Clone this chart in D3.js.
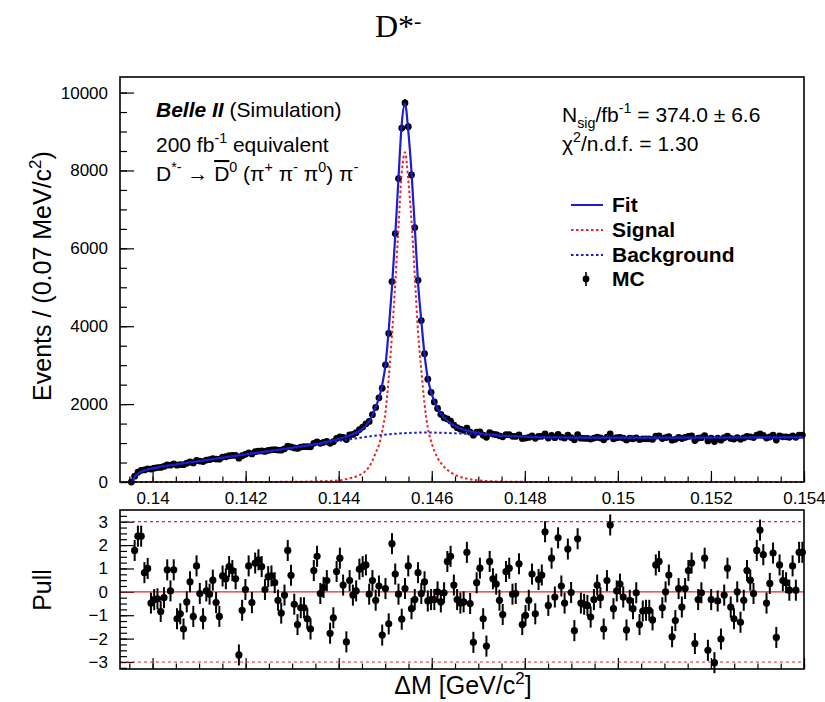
<!DOCTYPE html>
<html lang="en">
<head>
    <meta charset="UTF-8">
    <title>D*- Delta M fit</title>
    <script src="https://d3js.org/d3.v7.min.js"></script>
    <style>
        body { margin: 0; background: #fff; }
        svg { display: block; }
        text { font-family: "Liberation Sans", Arial, Helvetica, sans-serif; fill: #000; white-space: pre; }
        text.serif { font-family: "Liberation Serif", "Times New Roman", serif; }
        .tick line { stroke: #000; stroke-width: 1.2; }
    </style>
</head>
<body>
    <svg id="chart" width="825" height="702"></svg>

    <script>
        // histogram binning (0.07 MeV/c^2 bins)
        const binLow = 0.1393;
        const binWidth = 0.00007;

        // MC counts, first entry is bin 3
        const countsFirstBin = 3;
        const counts = [
            0, 150, 250, 301, 309, 338, 333, 354, 370, 374,
            400, 437, 432, 463, 431, 447, 444, 481, 513, 491,
            553, 537, 524, 564, 573, 599, 588, 585, 640, 649,
            674, 682, 686, 613, 674, 710, 750, 720, 778, 795,
            799, 784, 812, 825, 829, 821, 817, 851, 920, 901,
            876, 863, 896, 908, 907, 905, 994, 1028, 993, 1018,
            1045, 992, 1033, 1119, 1160, 1146, 1089, 1209, 1221, 1266,
            1345, 1410, 1494, 1556, 1730, 1914, 2162, 2408, 3008, 3815,
            5146, 6380, 7791, 9088, 9734, 9125, 7886, 6533, 5179, 4145,
            3295, 2640, 2304, 2055, 1888, 1737, 1650, 1620, 1565, 1463,
            1396, 1356, 1329, 1381, 1280, 1203, 1279, 1288, 1200, 1149,
            1265, 1231, 1215, 1186, 1159, 1216, 1216, 1173, 1170, 1209,
            1116, 1127, 1145, 1181, 1121, 1170, 1174, 1236, 1128, 1196,
            1139, 1223, 1152, 1127, 1204, 1141, 1085, 1218, 1125, 1122,
            1120, 1103, 1128, 1149, 1131, 1085, 1154, 1235, 1111, 1136,
            1146, 1128, 1080, 1123, 1111, 1135, 1089, 1108, 1109, 1109,
            1097, 1176, 1181, 1114, 1137, 1162, 1073, 1096, 1143, 1117,
            1144, 1170, 1181, 1064, 1129, 1139, 1189, 1056, 1129, 1039,
            1128, 1073, 1136, 1175, 1120, 1103, 1142, 1098, 1131, 1174,
            1160, 1141, 1203, 1233, 1198, 1128, 1156, 1201, 1079, 1184,
            1161, 1159, 1148, 1184, 1148, 1204, 1204
        ];

        // pulls, first entry is bin 4
        const pullFirstBin = 4;
        const pulls = [
            1.77, 2.38, 2.38, 0.82, 1.0, -0.48, -0.33, -0.30, -0.84, -0.25,
            0.94, 0.04, 0.94, -1.15, -0.94, -1.59, -0.43, 0.43, -1.05, 1.11,
            -0.07, -1.15, 0.04, -0.10, 0.5, -0.46, -1.05, 0.68, 0.56, 1.08,
            0.91, 0.56, -2.7, -0.79, 0.10, 1.11, -0.46, 1.23, 1.37, 1.08,
            0.10, 0.65, 0.68, 0.39, -0.36, -0.91, -0.14, 1.77, 0.71, -0.53,
            -1.40, -0.68, -0.68, -1.15, -1.59, 0.91, 1.52, -0.07, 0.19, 0.48,
            -1.77, -1.11, 0.87, 1.44, 0.29, -2.14, 0.48, -0.14, 0.04, 0.97,
            1.08, 1.15, -0.10, 0.48, -0.36, 0.25, -1.85, 0.14, -1.37, 2.06,
            0.76, -0.10, -1.17, 0.14, 1.11, -0.72, -0.33, 0.82, -0.07, 0.43,
            -0.39, -0.33, -0.33, 0, -0.43, -0.04, 1.30, 1.52, 0.29, -0.33,
            -0.48, -0.43, 1.69, -0.50, -2.16, 0.39, 1.01, -1.15, -2.32, 1.30,
            0.56, 0.33, -0.36, -0.97, 0.87, 1.01, -0.10, -0.07, 1.20, -1.40,
            -1.01, -0.36, 0.76, -0.94, 0.53, 0.72, 2.57, -0.58, 1.44, -0.22,
            2.31, 0.25, -0.48, 1.83, -0.03, -1.66, 2.27, -0.48, -0.53, -0.58,
            -1.08, -0.33, 0.29, -0.25, -1.59, 0.48, 2.86, -0.72, 0.04, 0.33,
            -0.22, -1.63, -0.36, -0.72, -0.04, -1.40, -0.82, -0.79, -0.79, -1.20,
            1.15, 1.30, -0.68, 0, 0.72, -1.92, -1.23, 0.14, -0.65, 0.14,
            0.91, 1.23, -2.21, -0.33, -0.04, 1.44, -2.50, -0.33, -3.03, -0.39,
            -2.02, -0.14, 1.01, -0.65, -1.15, 0, -1.30, -0.36, 0.91, 0.50,
            -0.07, 1.77, 2.64, 1.59, -0.48, 0.36, 1.66, -1.95, 1.15, 0.48,
            0.39, 0.07, 1.11, 0.07, 1.69, 1.69
        ];
        const pullErr = 0.45;

        // fit components, [deltaM, events]
        const fitCurve = [
            [0.13957, 0], [0.13960, 90], [0.139615, 130], [0.139685, 215], [0.139755, 262],
            [0.139825, 295], [0.139965, 342], [0.140175, 391], [0.140455, 443], [0.141, 537],
            [0.142065, 720], [0.143, 880], [0.143535, 980], [0.143885, 1069], [0.144235, 1192],
            [0.144445, 1310], [0.144585, 1450], [0.144725, 1710], [0.144795, 1930], [0.144865, 2150],
            [0.144935, 2500], [0.145005, 3000], [0.145075, 3900], [0.145145, 5000], [0.145215, 6320],
            [0.145285, 7800], [0.145355, 9200], [0.145425, 9720], [0.145495, 9020], [0.145565, 7950],
            [0.145635, 6560], [0.145705, 5120], [0.145775, 4150], [0.145845, 3270], [0.145915, 2660],
            [0.145985, 2320], [0.146055, 2070], [0.146125, 1888], [0.146265, 1652], [0.146405, 1506],
            [0.146545, 1408], [0.146755, 1320], [0.147035, 1252], [0.147385, 1204], [0.147735, 1176],
            [0.148085, 1157], [0.148785, 1143], [0.149835, 1137], [0.151235, 1138], [0.152635, 1143],
            [0.154, 1147]
        ];
        const signalCurve = [
            [0.1393, 0], [0.1420, 0], [0.1430, 6], [0.1435, 15], [0.1440, 40],
            [0.144235, 96], [0.144445, 175], [0.144585, 290], [0.144725, 540], [0.144795, 750],
            [0.144865, 950], [0.144935, 1300], [0.145005, 1790], [0.145075, 2680], [0.145145, 3770],
            [0.145215, 5080], [0.145285, 6555], [0.145355, 7950], [0.145425, 8465], [0.145495, 7760],
            [0.145565, 6685], [0.145635, 5292], [0.145705, 3852], [0.145775, 2882], [0.145845, 2001],
            [0.145915, 1390], [0.145985, 1050], [0.146055, 800], [0.146125, 620], [0.146265, 390],
            [0.146405, 250], [0.146545, 160], [0.146755, 85], [0.147035, 37], [0.147385, 14],
            [0.148, 3], [0.149, 0], [0.154, 0]
        ];
        const backgroundCurve = [
            [0.13957, 0], [0.13960, 90], [0.139615, 130], [0.139685, 215], [0.139755, 262],
            [0.139825, 295], [0.139965, 342], [0.140175, 391], [0.140455, 443], [0.141, 537],
            [0.142065, 720], [0.143, 874], [0.143535, 960], [0.143885, 1030], [0.144235, 1096],
            [0.144445, 1135], [0.144655, 1170], [0.144865, 1200], [0.145075, 1225], [0.145285, 1245],
            [0.145495, 1260], [0.145705, 1268], [0.145915, 1270], [0.146195, 1265], [0.146475, 1252],
            [0.146755, 1235], [0.147035, 1215], [0.147385, 1190], [0.147735, 1170], [0.148085, 1155],
            [0.148785, 1142], [0.149835, 1136], [0.151235, 1137], [0.152635, 1142], [0.154, 1147]
        ];

        // axis ticks
        const xTicks = [0.14, 0.142, 0.144, 0.146, 0.148, 0.15, 0.152, 0.154];
        const xTickLabels = ["0.14", "0.142", "0.144", "0.146", "0.148", "0.15", "0.152", "0.154"];
        const yTicks = [0, 2000, 4000, 6000, 8000, 10000];
        const pullTicks = [-3, -2, -1, 0, 1, 2, 3];
        const pullTickLabels = ["\u22123", "\u22122", "\u22121", "0", "1", "2", "3"];

        const svg = d3.select("#chart");

        const BLUE = "#1c1cd0";
        const RED = "#e02828";

        // layout
        const left = 120, right = 804;
        const top1 = 77, bottom1 = 482;
        const top2 = 510, bottom2 = 669;

        const x = d3.scaleLinear().domain([binLow, 0.154]).range([left, right]);
        const y = d3.scaleLinear().domain([0, 10400]).range([bottom1, top1]);
        const yp = d3.scaleLinear().domain([-3.3, 3.5]).range([bottom2, top2]);

        const binCenter = i => binLow + (i + 0.5) * binWidth;

        // rich text helper: parts with sup / sub / bold / italic / over
        function richText(parent, px, py, size, parts) {
            const t = parent.append("text").attr("x", px).attr("y", py).attr("font-size", size);
            let shift = 0;
            parts.forEach(p => {
                const s = typeof p === "string" ? { t: p } : p;
                const target = s.sup ? -size * 0.42 : s.sub ? size * 0.28 : 0;
                const ts = t.append("tspan").text(s.t).attr("dy", target - shift);
                if (s.sup || s.sub) ts.attr("font-size", size * 0.68);
                if (s.bold) ts.attr("font-weight", "bold");
                if (s.italic) ts.attr("font-style", "italic");
                if (s.over) ts.attr("text-decoration", "overline");
                shift = target;
            });
            return t;
        }

        // ---------- upper panel ----------
        const up = svg.append("g");

        // x axis ticks (inward)
        up.append("g")
            .attr("transform", `translate(0,${bottom1})`)
            .call(d3.axisBottom(x).tickValues(d3.range(0.1395, 0.15401, 0.0005)).tickSize(-5.5).tickFormat(""))
            .call(g => g.select(".domain").remove());
        up.append("g")
            .attr("transform", `translate(0,${bottom1})`)
            .call(d3.axisBottom(x).tickValues(xTicks).tickSize(-11).tickPadding(9.5)
                .tickFormat((d, i) => xTickLabels[i]))
            .call(g => g.select(".domain").remove())
            .call(g => g.selectAll("text").attr("font-size", 17));

        // y axis ticks
        up.append("g")
            .attr("transform", `translate(${left},0)`)
            .call(d3.axisLeft(y).tickValues(d3.range(0, 10001, 500)).tickSize(-7).tickFormat(""))
            .call(g => g.select(".domain").remove());
        up.append("g")
            .attr("transform", `translate(${left},0)`)
            .call(d3.axisLeft(y).tickValues(yTicks).tickSize(-14).tickPadding(12).tickFormat(d3.format("d")))
            .call(g => g.select(".domain").remove())
            .call(g => g.selectAll("text").attr("font-size", 17));

        // data points
        const dataPts = counts.map((c, j) => ({ v: binCenter(countsFirstBin + j), c }));
        up.append("g").selectAll("line")
            .data(dataPts)
            .join("line")
            .attr("x1", d => x(d.v)).attr("x2", d => x(d.v))
            .attr("y1", d => y(d.c - Math.sqrt(d.c))).attr("y2", d => y(d.c + Math.sqrt(d.c)))
            .attr("stroke", "#000").attr("stroke-width", 1.8);
        up.append("g").selectAll("circle")
            .data(dataPts)
            .join("circle")
            .attr("cx", d => x(d.v)).attr("cy", d => y(d.c))
            .attr("r", 3.4).attr("fill", "#000");

        // curves
        const line = d3.line().x(d => x(d[0])).y(d => y(d[1])).curve(d3.curveMonotoneX);
        up.append("path").datum(backgroundCurve).attr("d", line)
            .attr("fill", "none").attr("stroke", BLUE).attr("stroke-width", 2).attr("stroke-dasharray", "2.5,2.5");
        up.append("path").datum(signalCurve).attr("d", line)
            .attr("fill", "none").attr("stroke", RED).attr("stroke-width", 2).attr("stroke-dasharray", "2.5,2.5");
        up.append("path").datum(fitCurve).attr("d", line)
            .attr("fill", "none").attr("stroke", BLUE).attr("stroke-width", 2.2);

        // frame
        up.append("rect").attr("x", left).attr("y", top1)
            .attr("width", right - left).attr("height", bottom1 - top1)
            .attr("fill", "none").attr("stroke", "#000").attr("stroke-width", 1.6);

        // labels inside the plot
        richText(up, 156, 117, 21, [{ t: "Belle II", bold: true, italic: true }, " (Simulation)"]);
        richText(up, 156, 152, 21, ["200 fb", { t: "-1", sup: true }, " equivalent"]);
        richText(up, 156, 181, 21, ["D", { t: "*-", sup: true }, " \u2192 ", { t: "D", over: true },
            { t: "0", sup: true }, " (\u03c0", { t: "+", sup: true }, " \u03c0", { t: "-", sup: true },
            " \u03c0", { t: "0", sup: true }, ") \u03c0", { t: "-", sup: true }]);

        richText(up, 562, 122, 21, ["N", { t: "sig", sub: true }, "/fb", { t: "-1", sup: true }, " = 374.0 \u00b1 6.6"]);
        richText(up, 562, 151, 21, ["\u03c7", { t: "2", sup: true }, "/n.d.f. = 1.30"]);

        // legend
        const legend = up.append("g");
        const legRows = [
            { label: "Fit", y: 205, kind: "fit" },
            { label: "Signal", y: 230, kind: "sig" },
            { label: "Background", y: 255, kind: "bkg" },
            { label: "MC", y: 279, kind: "mc" }
        ];
        legRows.forEach(r => {
            if (r.kind === "mc") {
                legend.append("line").attr("x1", 586).attr("x2", 586).attr("y1", r.y - 7).attr("y2", r.y + 7)
                    .attr("stroke", "#000").attr("stroke-width", 1.6);
                legend.append("circle").attr("cx", 586).attr("cy", r.y).attr("r", 3.4).attr("fill", "#000");
            } else {
                legend.append("line").attr("x1", 571).attr("x2", 603).attr("y1", r.y).attr("y2", r.y)
                    .attr("stroke", r.kind === "sig" ? RED : BLUE).attr("stroke-width", 2)
                    .attr("stroke-dasharray", r.kind === "fit" ? null : "2.5,2.5");
            }
            legend.append("text").attr("x", 612).attr("y", r.y + 7).attr("font-size", 21)
                .attr("font-weight", "bold").text(r.label);
        });

        // y title
        svg.append("text")
            .attr("transform", "translate(51,276) rotate(-90)")
            .attr("text-anchor", "middle").attr("font-size", 25)
            .call(t => {
                t.append("tspan").text("Events / (0.07 MeV/c");
                t.append("tspan").text("2").attr("font-size", 17).attr("dy", -10);
                t.append("tspan").text(")").attr("dy", 10);
            });

        // ---------- pull panel ----------
        const lo = svg.append("g");

        lo.append("g")
            .attr("transform", `translate(0,${bottom2})`)
            .call(d3.axisBottom(x).tickValues(d3.range(0.1395, 0.15401, 0.0005)).tickSize(-5.5).tickFormat(""))
            .call(g => g.select(".domain").remove());
        lo.append("g")
            .attr("transform", `translate(0,${bottom2})`)
            .call(d3.axisBottom(x).tickValues(xTicks).tickSize(-11).tickFormat(""))
            .call(g => g.select(".domain").remove());

        lo.append("g")
            .attr("transform", `translate(${left},0)`)
            .call(d3.axisLeft(yp).tickValues(d3.range(-3.25, 3.5, 0.25)).tickSize(-7).tickFormat(""))
            .call(g => g.select(".domain").remove());
        lo.append("g")
            .attr("transform", `translate(${left},0)`)
            .call(d3.axisLeft(yp).tickValues(pullTicks).tickSize(-14).tickPadding(12)
                .tickFormat((d, i) => pullTickLabels[i]))
            .call(g => g.select(".domain").remove())
            .call(g => g.selectAll("text").attr("font-size", 17));

        // reference lines
        lo.append("line").attr("x1", left).attr("x2", right).attr("y1", yp(0)).attr("y2", yp(0))
            .attr("stroke", RED).attr("stroke-width", 1.4);
        [3, -3].forEach(v => {
            lo.append("line").attr("x1", left).attr("x2", right).attr("y1", yp(v)).attr("y2", yp(v))
                .attr("stroke", RED).attr("stroke-width", 1.2).attr("stroke-dasharray", "3,3");
        });

        const pullPts = pulls.map((p, j) => ({ v: binCenter(pullFirstBin + j), p }));
        lo.append("g").selectAll("line")
            .data(pullPts)
            .join("line")
            .attr("x1", d => x(d.v)).attr("x2", d => x(d.v))
            .attr("y1", d => yp(d.p - pullErr)).attr("y2", d => yp(d.p + pullErr))
            .attr("stroke", "#000").attr("stroke-width", 2);
        lo.append("g").selectAll("circle")
            .data(pullPts)
            .join("circle")
            .attr("cx", d => x(d.v)).attr("cy", d => yp(d.p))
            .attr("r", 3.6).attr("fill", "#000");

        lo.append("rect").attr("x", left).attr("y", top2)
            .attr("width", right - left).attr("height", bottom2 - top2)
            .attr("fill", "none").attr("stroke", "#000").attr("stroke-width", 1.6);

        svg.append("text")
            .attr("transform", "translate(51,590) rotate(-90)")
            .attr("text-anchor", "middle").attr("font-size", 25)
            .text("Pull");

        svg.append("text")
            .attr("x", 463).attr("y", 694)
            .attr("text-anchor", "middle").attr("font-size", 25)
            .call(t => {
                t.append("tspan").text("\u0394M [GeV/c");
                t.append("tspan").text("2").attr("font-size", 17).attr("dy", -10);
                t.append("tspan").text("]").attr("dy", 10);
            });

        // title
        svg.append("text")
            .attr("class", "serif")
            .attr("x", 375).attr("y", 37)
            .attr("font-size", 32)
            .call(t => {
                t.append("tspan").text("D*");
                t.append("tspan").text("-").attr("font-size", 22).attr("dy", -9);
            });
    </script>
</body>
</html>
